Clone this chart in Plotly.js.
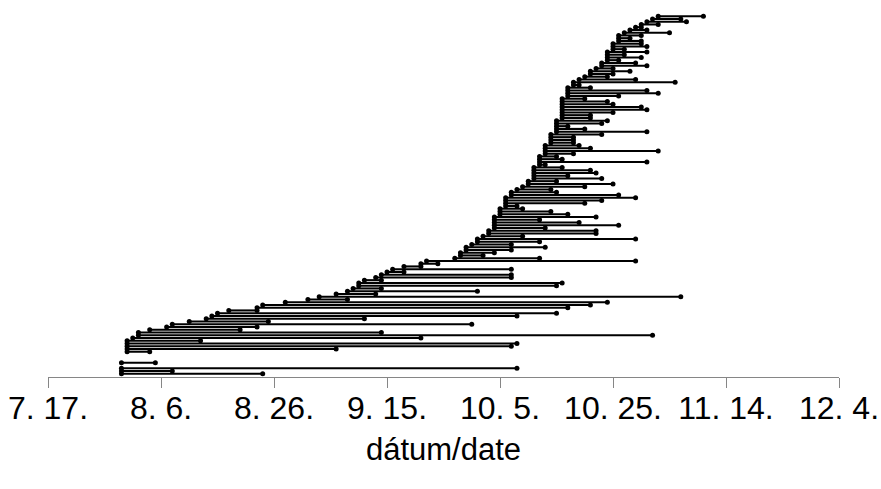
<!DOCTYPE html>
<html>
<head>
<meta charset="utf-8">
<script src="https://cdn.plot.ly/plotly-3.0.1.min.js"></script>
<style>html,body{margin:0;padding:0;background:#fff;}#chart{width:881px;height:489px;}</style>
</head>
<body>
<div id="chart"></div>
<script>
const YEAR = 2009;
const rowPos = [1,2,3,5,
  9,10,11,12,13,14,15,16,17,18,19,20,21,22,23,24,25,26,27,28,29,30,
  31,32,33,34,35,36,37,38,39,40,41,42,43,44,45,46,47,48,49,50,
  51,52,53,54,55,56,57,58,59,60,61,62,63,64,65,66,67,68,69,70,
  71,72,73,74,75,76,77,78,79,80,81,82,83,84,85,86,87,88,89,90,
  91,92,93,94,95,96,97,98,99,100,101,102,103,104,105,106,107,108,109,110,
  111,112,113,114,115,116,117,118,119,120,121,122,123,124,125,126,127,128,129,130,131];
const startDates = ['07-30','07-30','07-30','07-30',
  '07-31','07-31','07-31','07-31','07-31','08-01','08-02','08-02','08-04','08-07','08-08','08-11','08-14','08-15','08-16','08-18','08-23','08-24','08-28','09-01','09-03','09-06',
  '09-08','09-09','09-10','09-10','09-11','09-13','09-14','09-15','09-16','09-18','09-21','09-22','09-27','09-28','09-28','09-29','09-29','09-30','10-01','10-01',
  '10-02','10-03','10-03','10-04','10-04','10-04','10-04','10-04','10-05','10-05','10-05','10-06','10-06','10-06','10-06','10-07','10-07','10-08','10-09','10-10',
  '10-10','10-11','10-11','10-11','10-11','10-11','10-12','10-12','10-12','10-12','10-13','10-13','10-13','10-13','10-14','10-14','10-14','10-14','10-15','10-15',
  '10-15','10-15','10-15','10-16','10-16','10-16','10-16','10-16','10-16','10-16','10-16','10-17','10-17','10-17','10-17','10-18','10-18','10-19','10-20','10-21',
  '10-21','10-22','10-23','10-23','10-24','10-24','10-24','10-24','10-25','10-25','10-25','10-26','10-26','10-26','10-27','10-28','10-29','10-30','10-31','11-01','11-02'];
const endDates = ['08-24','08-08','10-08','08-05',
  '08-04','09-06','10-07','10-08','08-13','09-21','11-01','09-14','08-20','08-23','09-30','08-25','09-11','10-08','10-15','08-23','10-17','10-21','10-24','09-08','11-06','09-13',
  '10-01','09-14','10-15','10-16','09-14','10-07','10-07','09-18','10-07','09-21','09-24','10-29','10-12','10-02','10-04','10-07','10-13','10-07','10-12','10-29',
  '10-09','10-22','10-22','10-13','10-26','10-19','10-12','10-22','10-17','10-14','10-09','10-08','10-20','10-23','10-29','10-26','10-15','10-14','10-20','10-25',
  '10-15','10-23','10-17','10-22','10-21','10-16','10-13','10-31','10-16','10-15','10-18','11-02','10-21','10-19','10-18','10-18','10-18','10-23','10-31','10-20',
  '10-17','10-23','10-24','10-21','10-21','10-25','10-31','10-30','10-25','10-24','10-20','10-26','11-02','10-31','10-21','10-19','11-05','10-29','10-24','10-25',
  '10-28','10-25','10-31','10-29','10-26','10-30','10-27','10-31','10-27','10-31','10-30','10-30','10-28','10-30','11-04','10-31','10-30','11-02','11-07','11-06','11-10'];
const tickDates = ['07-17','08-06','08-26','09-15','10-05','10-25','11-14','12-04'];
const tickLabels = ['7. 17.','8. 6.','8. 26.','9. 15.','10. 5.','10. 25.','11. 14.','12. 4.'];
const xTitle = 'dátum/date';

const iso = md => YEAR + '-' + md;
const xs = [], ys = [];
for (let i = 0; i < rowPos.length; i++) {
  xs.push(iso(startDates[i]), iso(endDates[i]), null);
  ys.push(rowPos[i], rowPos[i], null);
}

const trace = {
  type: 'scatter', mode: 'lines+markers', x: xs, y: ys,
  line: {color: '#000000', width: 2.1},
  marker: {color: '#000000', size: 5},
  connectgaps: false, hoverinfo: 'skip', showlegend: false
};

const layout = {
  width: 881, height: 489,
  margin: {l: 48, r: 42, t: 10, b: 112},
  paper_bgcolor: '#ffffff', plot_bgcolor: '#ffffff',
  font: {family: 'Arial, "Liberation Sans", sans-serif', color: '#000000'},
  showlegend: false,
  xaxis: {
    type: 'date', range: [iso('07-17'), iso('12-04')],
    tickmode: 'array', tickvals: tickDates.map(iso), ticktext: tickLabels,
    showgrid: false, zeroline: false,
    showline: true, linecolor: '#868686', linewidth: 1,
    ticks: 'outside', ticklen: 10, tickcolor: '#868686', tickwidth: 1,
    ticklabelstandoff: -7,
    tickfont: {size: 32, color: '#000000'},
    title: {text: xTitle, font: {size: 31, color: '#000000'}, standoff: 12}
  },
  yaxis: {range: [-0.2, 133.25], visible: false, fixedrange: true}
};

Plotly.newPlot('chart', [trace], layout, {staticPlot: true, displayModeBar: false});
</script>
</body>
</html>
